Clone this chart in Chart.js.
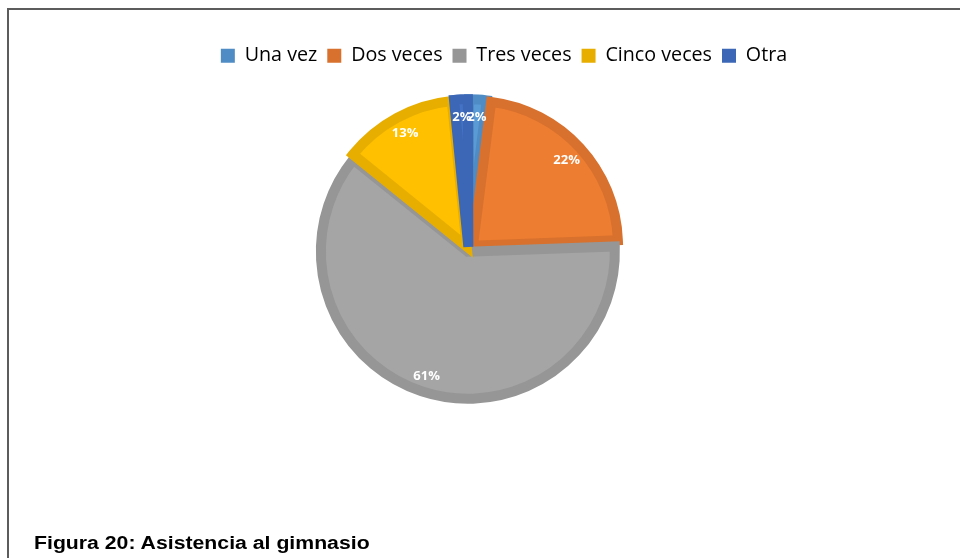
<!DOCTYPE html>
<html>
<head>
<meta charset="utf-8">
<script src="https://cdn.jsdelivr.net/npm/chart.js@4"></script>
<style>
  html, body { margin: 0; padding: 0; background: #ffffff; overflow: hidden; }
  #wrap { position: relative; width: 960px; height: 558px; background: #ffffff; }
  #frame { position: absolute; left: 7px; top: 8px; width: 1000px; height: 600px;
           border-top: 2px solid #5c5c5c; border-left: 2px solid #5c5c5c; }
  #chart { position: absolute; left: 0; top: 0; }
  #caption { position: absolute; left: 34px; top: 534px; font: bold 18px "Liberation Sans", Arial, sans-serif;
             line-height: 18px; color: #000; white-space: nowrap; transform: scaleX(1.18); transform-origin: left top; }
</style>
</head>
<body>
<div id="wrap">
  <div id="frame"></div>
  <canvas id="chart" width="960" height="558"></canvas>
  <div id="caption">Figura 20: Asistencia al gimnasio</div>
</div>
<script>
const categories = ["Una vez", "Dos veces", "Tres veces", "Cinco veces", "Otra"];
// shares (%); labels show them rounded
const shares = [2.0, 22.4, 61.4, 12.6, 1.6];
const fillColors = ["#5B9BD5", "#ED7D31", "#A5A5A5", "#FFC000", "#4472C4"];
const borderColors = ["#4F8CC5", "#D8712D", "#969696", "#E7AE00", "#3C67B6"];

const legendShift = {
  id: 'legendShift',
  afterLayout(chart) {
    const lg = chart.legend;
    if (lg) { lg.left += 35.5; lg.right += 35.5; }
  }
};

const sliceLabels = {
  id: 'sliceLabels',
  afterDatasetsDraw(chart) {
    const ctx = chart.ctx;
    const meta = chart.getDatasetMeta(0);
    const ds = chart.data.datasets[0];
    ctx.save();
    ctx.fillStyle = '#ffffff';
    ctx.font = 'bold 13px "Open Sans", sans-serif';
    ctx.textAlign = 'center';
    ctx.textBaseline = 'middle';
    meta.data.forEach((arc, i) => {
      const p = arc.getProps(['x', 'y', 'startAngle', 'endAngle', 'outerRadius'], true);
      const mid = (p.startAngle + p.endAngle) / 2;
      const d = p.outerRadius - 12;
      const tx = p.x + Math.cos(mid) * d;
      const ty = p.y + Math.sin(mid) * d;
      ctx.fillText(Math.round(ds.data[i]) + '%', tx, ty);
    });
    ctx.restore();
  }
};

new Chart(document.getElementById('chart'), {
  type: 'pie',
  data: {
    labels: categories,
    datasets: [{
      data: shares,
      backgroundColor: fillColors,
      borderColor: borderColors,
      borderWidth: 10,
      borderJoinStyle: 'miter',
      offset: [12, 24, 8, 16, 12],
      radius: 145
    }]
  },
  options: {
    responsive: false,
    animation: false,
    events: [],
    layout: { padding: { top: 36, left: 0, right: 23, bottom: 134 } },
    plugins: {
      tooltip: { enabled: false },
      legend: {
        position: 'top',
        labels: {
          boxWidth: 14,
          boxHeight: 14,
          padding: 10,
          color: '#595959',
          font: { family: '"Open Sans", sans-serif', size: 19.7 },
          generateLabels(chart) {
            return chart.data.labels.map((l, i) => ({
              text: l,
              fillStyle: borderColors[i],
              strokeStyle: borderColors[i],
              lineWidth: 0,
              hidden: false,
              index: i
            }));
          }
        }
      }
    }
  },
  plugins: [legendShift, sliceLabels]
});
</script>
</body>
</html>
